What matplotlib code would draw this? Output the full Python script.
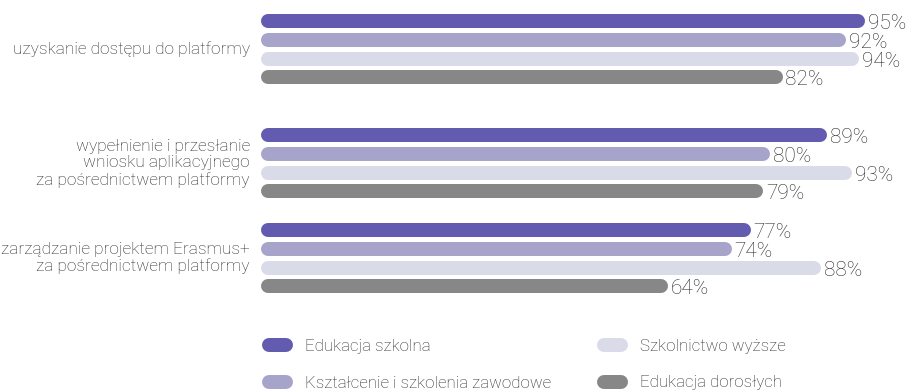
import matplotlib.pyplot as plt

# data
categories = [
    "uzyskanie dostępu do platformy",
    "wypełnienie i przesłanie\nwniosku aplikacyjnego\nza pośrednictwem platformy",
    "zarządzanie projektem Erasmus+\nza pośrednictwem platformy",
]
series = ["Edukacja szkolna", "Kształcenie i szkolenia zawodowe",
          "Szkolnictwo wyższe", "Edukacja dorosłych"]
edukacja_szkolna = [95, 89, 77]
ksztalcenie_zawodowe = [92, 80, 74]
szkolnictwo_wyzsze = [94, 93, 88]
edukacja_doroslych = [82, 79, 64]
values = [edukacja_szkolna, ksztalcenie_zawodowe, szkolnictwo_wyzsze, edukacja_doroslych]

colors = ["#625BAF", "#A7A4CC", "#DADBE9", "#878787"]
txt_color = "#2a2a2a"

# layout (pixels)
W, H = 906, 390
x0 = 261.0          # pixel where 0% sits
ppu = 6.36          # pixels per percent
group_top = [21, 135, 230]
bar_step = 18.8
bar_h = 14

fig = plt.figure(figsize=(W / 100, H / 100), dpi=100)
ax = fig.add_axes([0, 0, 1, 1])
ax.set_xlim(-x0 / ppu, (W - x0) / ppu)
ax.set_ylim(H, 0)
ax.axis("off")

lw = bar_h * 72 / 100
r = (bar_h / 2) / ppu

for g, cat in enumerate(categories):
    ys = [group_top[g] + i * bar_step for i in range(len(series))]
    for i, s in enumerate(series):
        v = values[i][g]
        ax.plot([r, v - r], [ys[i], ys[i]], color=colors[i], lw=lw,
                solid_capstyle="round")
        ax.text(v + 0.45, ys[i] + 2.5, f"{v}%", fontsize=15, family="Roboto",
                fontweight="light", color=txt_color, va="center", ha="left")
    ax.text(-11 / ppu, (ys[0] + ys[-1]) / 2, cat, ha="right", va="center",
            multialignment="right", fontsize=12.4, family="Roboto",
            fontweight="light", color=txt_color, linespacing=1.12)

# legend
leg_pos = [(262, 345), (262, 382), (597, 345), (597, 382)]
for i, s in enumerate(series):
    px, py = leg_pos[i]
    xa = (px - x0 + bar_h / 2) / ppu
    xb = (px + 31 - x0 - bar_h / 2) / ppu
    ax.plot([xa, xb], [py, py], color=colors[i], lw=lw, solid_capstyle="round")
    ax.text((px + 43 - x0) / ppu, py + 1, s, ha="left", va="center", fontsize=12.2,
            family="Roboto", fontweight="light", color=txt_color)

fig.savefig("out.png", dpi=100)
